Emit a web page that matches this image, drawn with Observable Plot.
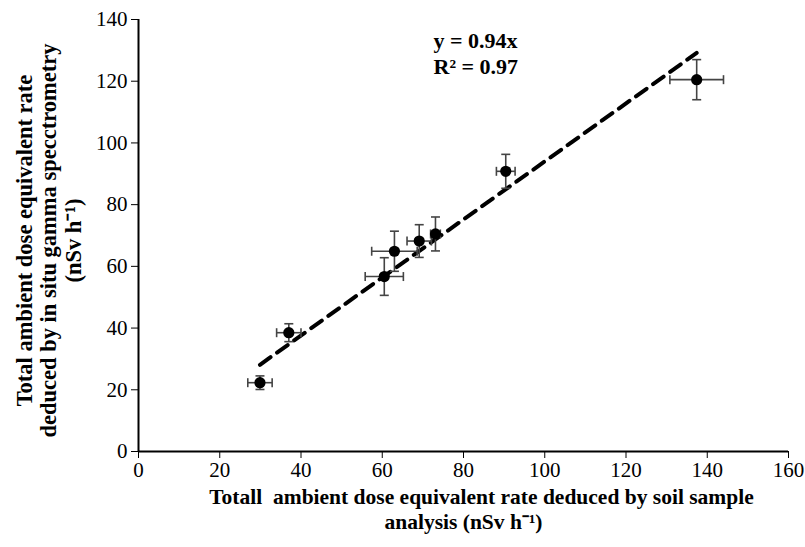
<!DOCTYPE html>
<html>
<head>
<meta charset="utf-8">
<script src="https://cdn.jsdelivr.net/npm/d3@7"></script>
<script src="https://cdn.jsdelivr.net/npm/@observablehq/plot@0.6"></script>
<style>
  html, body { margin: 0; padding: 0; background: #fff; }
  svg, svg text { font-family: "Liberation Serif", serif !important; }
</style>
</head>
<body>
<div id="chart"></div>
<script>
// Data
const soilDose   = [29.9, 37.0, 60.5, 63.0, 69.1, 73.1, 90.4, 137.4];   // x
const insituDose = [22.3, 38.5, 56.7, 64.9, 68.2, 70.5, 90.8, 120.5];   // y
const soilErr    = [3.0, 3.0, 4.7, 5.6, 3.0, 1.2, 2.3, 6.6];
const insituErr  = [2.2, 2.9, 6.1, 6.5, 5.3, 5.5, 5.5, 6.5];
const slope = 0.94;
const rSquared = 0.97;
const xTicks = [0, 20, 40, 60, 80, 100, 120, 140, 160];
const yTicks = [0, 20, 40, 60, 80, 100, 120, 140];

const points = soilDose.map((x, i) => ({x, y: insituDose[i], ex: soilErr[i], ey: insituErr[i]}));
const trendX = [d3.min(soilDose), d3.max(soilDose)];

const capV = {draw(ctx) { ctx.moveTo(0, -4.5); ctx.lineTo(0, 4.5); }};
const capH = {draw(ctx) { ctx.moveTo(-4.5, 0); ctx.lineTo(4.5, 0); }};

const font = "'Liberation Serif', serif";
const errColor = "#444";

const chart = Plot.plot({
  width: 805,
  height: 547,
  marginLeft: 138,
  marginRight: 17,
  marginTop: 19,
  marginBottom: 96,
  style: {fontFamily: font, fontSize: "21px", background: "#fff", color: "#000"},
  x: {domain: [0, 160]},
  y: {domain: [0, 140]},
  marks: [
    Plot.axisX({ticks: xTicks, tickSize: 7, tickPadding: 4, label: null, fontSize: 21, tickFormat: d3.format("d")}),
    Plot.axisY({ticks: yTicks, tickSize: 7, tickPadding: 4, label: null, fontSize: 21, tickFormat: d3.format("d")}),
    Plot.ruleX([0], {stroke: "#000", strokeWidth: 2}),
    Plot.ruleY([0], {stroke: "#000", strokeWidth: 2}),
    // trend line
    Plot.line(trendX, {x: d => d, y: d => slope * d, stroke: "#000", strokeWidth: 4, strokeDasharray: "13,8"}),
    // error bars
    Plot.link(points, {x1: d => d.x - d.ex, x2: d => d.x + d.ex, y1: "y", y2: "y", stroke: errColor, strokeWidth: 1.6}),
    Plot.link(points, {x1: "x", x2: "x", y1: d => d.y - d.ey, y2: d => d.y + d.ey, stroke: errColor, strokeWidth: 1.6}),
    Plot.dot(points, {x: d => d.x - d.ex, y: "y", symbol: capV, stroke: errColor, strokeWidth: 1.6, fill: "none"}),
    Plot.dot(points, {x: d => d.x + d.ex, y: "y", symbol: capV, stroke: errColor, strokeWidth: 1.6, fill: "none"}),
    Plot.dot(points, {x: "x", y: d => d.y - d.ey, symbol: capH, stroke: errColor, strokeWidth: 1.6, fill: "none"}),
    Plot.dot(points, {x: "x", y: d => d.y + d.ey, symbol: capH, stroke: errColor, strokeWidth: 1.6, fill: "none"}),
    // points
    Plot.dot(points, {x: "x", y: "y", r: 5.6, fill: "#000", stroke: "none"}),
    // equation
    Plot.text([`y = ${slope}x`], {frameAnchor: "top-left", dx: 295, dy: 28, lineAnchor: "bottom", textAnchor: "start", fontSize: 22, fontWeight: "bold", fill: "#000"}),
    Plot.text([`R² = ${rSquared}`], {frameAnchor: "top-left", dx: 295, dy: 54, lineAnchor: "bottom", textAnchor: "start", fontSize: 22, fontWeight: "bold", fill: "#000"}),
    // axis titles
    Plot.text(["Total ambient dose equivalent rate\ndeduced by in situ gamma specctrometry\n(nSv h⁻¹)"], {frameAnchor: "left", dx: -90, dy: 5, rotate: -90, lineAnchor: "middle", textAnchor: "middle", lineHeight: 1.09, fontSize: 22.5, fontWeight: "bold", fill: "#000"}),
    Plot.text(["Totall  ambient dose equivalent rate deduced by soil sample"], {frameAnchor: "bottom", dx: 18, dy: 46, lineAnchor: "middle", textAnchor: "middle", fontSize: 21.5, fontWeight: "bold", fill: "#000"}),
    Plot.text(["analysis (nSv h⁻¹)"], {frameAnchor: "bottom", dx: 0, dy: 71, lineAnchor: "middle", textAnchor: "middle", fontSize: 21.5, fontWeight: "bold", fill: "#000"})
  ]
});
document.getElementById("chart").appendChild(chart);
</script>
</body>
</html>
